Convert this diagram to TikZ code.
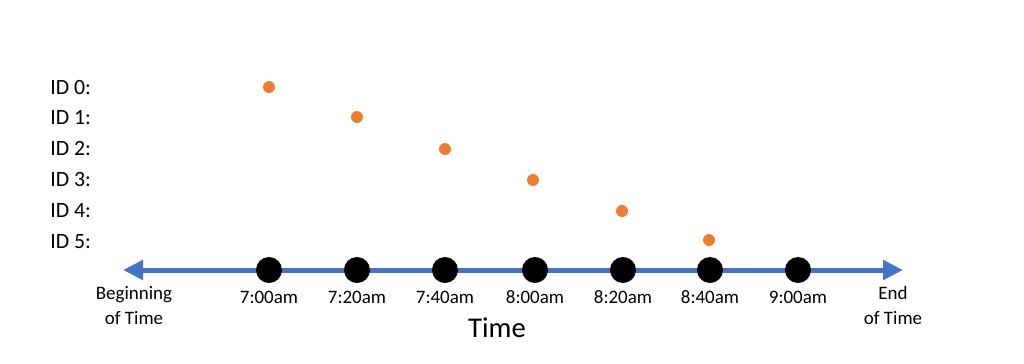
\documentclass[tikz,border=0pt]{standalone}
\usepackage{fontspec}
\setmainfont{Carlito}
\usetikzlibrary{arrows.meta}
\definecolor{axisblue}{HTML}{4472C4}
\definecolor{idorange}{HTML}{ED7D31}
\begin{document}
\begin{tikzpicture}
                \useasboundingbox (0,0) rectangle (20.48,7.26);
                \coordinate (tstart) at (2.46,1.86);
                \coordinate (tend) at (18.06,1.86);
                \draw[axisblue, line width = 0.1cm, {Triangle[length = 0.4cm, width = 0.38cm]}-{Triangle[length = 0.4cm, width = 0.38cm]}] (tstart) -- (tend);
                \begin{scope}[every node/.append style = {circle, fill = black, inner sep = 0pt, minimum size = 0.52cm}]
                    \node (t0) at (5.38,1.86) {};
                    \node (t1) at (7.14,1.86) {};
                    \node (t2) at (8.90,1.86) {};
                    \node (t3) at (10.70,1.86) {};
                    \node (t4) at (12.46,1.86) {};
                    \node (t5) at (14.20,1.86) {};
                    \node (t6) at (15.96,1.86) {};
                \end{scope}
                \begin{scope}[every node/.append style = {circle, fill = idorange, inner sep = 0pt, minimum size = 0.24cm}]
                    \node (p0) at (5.38,5.52) {};
                    \node (p1) at (7.14,4.92) {};
                    \node (p2) at (8.90,4.28) {};
                    \node (p3) at (10.66,3.66) {};
                    \node (p4) at (12.44,3.04) {};
                    \node (p5) at (14.18,2.46) {};
                \end{scope}
                \begin{scope}[every node/.append style = {anchor = west, inner sep = 0pt, font = \fontsize{12.4}{14}\selectfont}]
                    \node (id0) at (1.0,5.50) {ID 0:};
                    \node (id1) at (1.0,4.90) {ID 1:};
                    \node (id2) at (1.0,4.28) {ID 2:};
                    \node (id3) at (1.0,3.66) {ID 3:};
                    \node (id4) at (1.0,3.04) {ID 4:};
                    \node (id5) at (1.0,2.42) {ID 5:};
                \end{scope}
                \begin{scope}[every node/.append style = {inner sep = 0pt, align = center, font = \fontsize{10.8}{14.2}\selectfont}]
                    \node (l0) at (5.38,1.32) {7:00am};
                    \node (l1) at (7.14,1.32) {7:20am};
                    \node (l2) at (8.90,1.32) {7:40am};
                    \node (l3) at (10.70,1.32) {8:00am};
                    \node (l4) at (12.46,1.32) {8:20am};
                    \node (l5) at (14.20,1.32) {8:40am};
                    \node (l6) at (15.96,1.32) {9:00am};
                    \node (begin) at (2.68,1.15) {Beginning\\of Time};
                    \node (finish) at (17.86,1.15) {End\\of Time};
                \end{scope}
                \node[font = \fontsize{16.3}{19}\selectfont] (axislabel) at (9.94,0.70) {Time};
            \end{tikzpicture}
\end{document}
